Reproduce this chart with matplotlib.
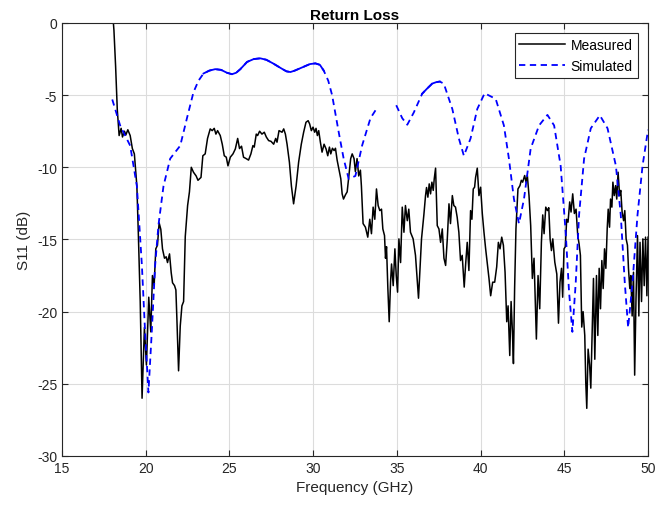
import numpy as np
import matplotlib
matplotlib.use("Agg")
import matplotlib.pyplot as plt

plt.rcParams['font.family'] = ['Liberation Sans', 'DejaVu Sans']
plt.rcParams['axes.unicode_minus'] = False

# measured S11
freq_meas = [18.0, 18.1, 18.2, 18.3, 18.37, 18.41, 18.53, 18.61, 18.73, 18.81, 18.93, 19.07, 19.2, 19.32,
             19.47, 19.56, 19.67, 19.78, 19.92, 20.04, 20.18, 20.3, 20.4, 20.5, 20.6, 20.7, 20.8, 20.9,
             21.0, 21.12, 21.22, 21.3, 21.42, 21.52, 21.6, 21.72, 21.8, 21.86, 21.96, 22.06, 22.16, 22.26,
             22.36, 22.5, 22.61, 22.72, 22.85, 23.01, 23.12, 23.3, 23.41, 23.55, 23.69, 23.85, 23.97, 24.09,
             24.19, 24.29, 24.45, 24.57, 24.69, 24.81, 24.91, 25.05, 25.21, 25.35, 25.49, 25.6, 25.72, 25.84,
             26.0, 26.14, 26.28, 26.4, 26.48, 26.6, 26.68, 26.8, 26.94, 27.08, 27.2, 27.34, 27.48, 27.64,
             27.76, 27.84, 27.96, 28.14, 28.24, 28.34, 28.44, 28.58, 28.7, 28.83, 28.98, 29.13, 29.29, 29.43,
             29.57, 29.7, 29.79, 29.89, 29.99, 30.09, 30.17, 30.25, 30.33, 30.43, 30.53, 30.65, 30.77, 30.87,
             30.97, 31.05, 31.15, 31.25, 31.33, 31.43, 31.53, 31.65, 31.73, 31.81, 31.93, 32.03, 32.12, 32.24,
             32.33, 32.44, 32.52, 32.62, 32.72, 32.82, 32.88, 32.98, 33.12, 33.26, 33.38, 33.48, 33.58, 33.68,
             33.78, 33.88, 33.98, 34.08, 34.16, 34.26, 34.32, 34.38, 34.46, 34.54, 34.62, 34.68, 34.78, 34.88,
             34.96, 35.04, 35.12, 35.22, 35.32, 35.42, 35.51, 35.62, 35.71, 35.81, 35.97, 36.11, 36.21, 36.29,
             36.37, 36.47, 36.61, 36.71, 36.77, 36.85, 36.93, 37.01, 37.09, 37.17, 37.23, 37.31, 37.41, 37.51,
             37.61, 37.71, 37.81, 37.91, 38.01, 38.11, 38.2, 38.31, 38.4, 38.5, 38.6, 38.7, 38.8, 38.9,
             39.02, 39.1, 39.2, 39.3, 39.4, 39.48, 39.56, 39.64, 39.7, 39.8, 39.9, 40.0, 40.1, 40.2,
             40.3, 40.4, 40.5, 40.6, 40.72, 40.84, 40.96, 41.06, 41.16, 41.26, 41.36, 41.46, 41.56, 41.64,
             41.74, 41.82, 41.9, 41.96, 42.03, 42.11, 42.23, 42.35, 42.43, 42.51, 42.63, 42.71, 42.79, 42.89,
             42.99, 43.09, 43.19, 43.33, 43.43, 43.53, 43.63, 43.71, 43.79, 43.89, 43.99, 44.07, 44.15, 44.23,
             44.31, 44.43, 44.55, 44.65, 44.74, 44.83, 44.9, 44.98, 45.06, 45.14, 45.22, 45.32, 45.4, 45.5,
             45.6, 45.7, 45.8, 45.88, 45.96, 46.04, 46.12, 46.22, 46.28, 46.34, 46.42, 46.51, 46.58, 46.66,
             46.74, 46.82, 46.92, 47.0, 47.08, 47.16, 47.24, 47.32, 47.4, 47.48, 47.56, 47.62, 47.7, 47.76,
             47.84, 47.9, 47.98, 48.06, 48.13, 48.21, 48.3, 48.37, 48.45, 48.54, 48.61, 48.69, 48.77, 48.83,
             48.91, 48.97, 49.05, 49.13, 49.2, 49.28, 49.37, 49.45, 49.52, 49.61, 49.69, 49.77, 49.85, 49.93,
             50.0]
s11_meas = [1.0, -0.5, -3.0, -6.0, -7.1, -7.8, -7.3, -7.9, -7.5, -7.76, -7.4, -7.8, -8.7, -9.07,
            -11.3, -14.7, -19.3, -26.0, -21.1, -23.7, -19.0, -21.4, -17.5, -18.2, -15.65, -15.4, -13.85, -14.3,
            -15.65, -16.3, -16.2, -16.6, -16.0, -17.3, -18.0, -18.2, -18.5, -20.5, -24.1, -21.0, -19.6, -19.3,
            -14.8, -12.65, -11.7, -10.0, -10.34, -10.6, -10.9, -10.7, -9.2, -9.07, -8.0, -7.34, -7.46, -7.3,
            -7.7, -7.46, -7.8, -8.4, -9.2, -9.3, -9.9, -9.3, -9.07, -8.73, -8.0, -8.7, -8.54, -9.3,
            -9.4, -9.5, -9.07, -8.5, -8.6, -7.7, -7.8, -7.5, -7.7, -7.57, -7.9, -8.15, -8.2, -8.4,
            -8.0, -8.26, -7.46, -7.57, -7.34, -7.7, -8.4, -9.65, -11.3, -12.53, -11.3, -9.65, -8.4, -7.57,
            -6.88, -6.77, -7.0, -7.46, -7.22, -7.57, -7.3, -7.8, -7.46, -8.26, -8.95, -8.4, -8.73, -9.2,
            -8.6, -9.07, -8.68, -8.84, -8.68, -9.5, -10.1, -10.8, -11.84, -12.2, -11.9, -11.7, -10.7, -9.4,
            -9.07, -9.4, -10.3, -9.4, -10.6, -10.2, -11.3, -13.9, -14.15, -14.84, -13.6, -14.6, -12.76, -13.6,
            -11.5, -12.65, -13.0, -12.9, -14.27, -14.73, -16.3, -15.5, -18.4, -20.7, -17.96, -16.7, -18.2, -15.65,
            -17.5, -18.65, -14.96, -16.6, -12.76, -14.5, -12.65, -13.7, -12.9, -14.5, -14.96, -16.1, -17.7, -19.07,
            -17.27, -14.96, -13.3, -11.96, -11.4, -12.07, -11.15, -11.84, -11.03, -11.6, -10.8, -10.06, -14.04, -14.27,
            -15.2, -14.27, -16.3, -16.8, -14.96, -12.53, -13.9, -11.96, -12.65, -12.76, -13.46, -14.5, -16.46, -16.1,
            -18.3, -16.8, -15.2, -17.15, -13.0, -13.6, -11.5, -11.38, -10.7, -10.06, -11.96, -11.38, -13.2, -14.5,
            -15.65, -16.7, -17.7, -18.9, -17.96, -17.96, -16.9, -15.2, -15.65, -14.84, -15.4, -17.27, -20.7, -19.6,
            -23.04, -19.3, -21.4, -23.6, -18.4, -14.27, -11.5, -11.27, -10.9, -11.03, -10.57, -11.03, -10.57, -11.96,
            -14.04, -17.7, -16.3, -21.9, -17.5, -19.8, -15.2, -13.3, -14.6, -12.76, -13.0, -12.8, -14.96, -15.77,
            -14.96, -16.57, -17.4, -20.8, -17.96, -17.0, -19.0, -15.65, -15.5, -13.6, -13.8, -12.4, -13.1, -11.84,
            -13.2, -12.9, -14.73, -15.3, -16.1, -21.07, -20.0, -21.65, -24.9, -26.7, -22.6, -23.7, -25.3, -21.4,
            -17.7, -23.3, -17.5, -21.65, -17.0, -19.8, -16.46, -18.4, -15.65, -17.0, -14.27, -12.9, -14.15, -12.2,
            -12.76, -11.03, -11.96, -11.27, -12.2, -10.34, -11.96, -11.6, -13.1, -13.7, -13.0, -14.96, -15.4, -17.0,
            -18.4, -17.5, -20.3, -17.27, -24.4, -19.1, -14.73, -20.3, -15.2, -19.3, -14.96, -18.2, -14.84, -18.9,
            -14.84]

# simulated S11 (nan = gap in the data)
freq_sim = [18.0, 18.47, 19.07, 19.47, 19.77, 19.96, 20.16, 20.36, 20.56, 20.76, 21.06, 21.46, 22.06, 22.46,
            22.85, 23.15, 23.45, 23.8, 24.15, 24.5, 24.85, 25.15, 25.4, 25.65, 26.05, 26.45, 26.84, 27.2,
            27.6, 28.1, 28.4, 28.64, 28.9, 29.4, 29.8, 30.13, 30.4, 30.63, 30.9, 31.13, 31.53, 31.82,
            32.12, 32.52, 32.92, 33.42, 33.86, 34.4, 34.96, 35.32, 35.62, 36.01, 36.51, 36.8, 37.11, 37.35,
            37.56, 37.8, 38.31, 38.7, 39.0, 39.4, 39.8, 40.24, 40.9, 41.39, 41.69, 41.99, 42.29, 42.59,
            42.99, 43.49, 43.99, 44.39, 44.78, 45.08, 45.28, 45.48, 45.68, 45.88, 46.18, 46.58, 47.12, 47.58,
            48.08, 48.37, 48.61, 48.81, 49.07, 49.37, 49.67, 50.0]
s11_sim = [-5.3, -7.1, -8.5, -11.3, -16.8, -21.4, -25.6, -21.4, -16.8, -14.0, -11.3, -9.4, -8.5, -6.6,
           -4.8, -4.0, -3.5, -3.3, -3.2, -3.25, -3.45, -3.55, -3.45, -3.2, -2.7, -2.5, -2.45, -2.55,
           -2.8, -3.15, -3.35, -3.4, -3.3, -3.05, -2.85, -2.8, -2.9, -3.3, -4.0, -5.0, -7.6, -9.4,
           -10.8, -10.6, -8.5, -6.6, -5.8, np.nan, -5.7, -6.6, -7.05, -6.2, -4.9, -4.55, -4.2, -4.1,
           -4.06, -4.2, -5.96, -8.0, -9.2, -8.0, -5.96, -4.87, -5.26, -7.1, -9.4, -12.2, -13.9, -12.2,
           -8.7, -7.1, -6.37, -7.1, -9.9, -14.5, -18.6, -21.4, -18.0, -13.3, -9.4, -7.3, -6.4, -7.3,
           -9.9, -13.3, -18.0, -21.1, -18.0, -13.3, -9.9, -7.4]

fs = np.array(freq_sim)
ss = np.array(s11_sim)

fig = plt.figure(figsize=(6.55, 5.10), dpi=100)
ax = fig.add_axes([0.0947, 0.104, 0.8947, 0.849])

ax.plot(freq_meas, s11_meas, color='black', lw=1.1, label='Measured')
ax.plot(fs, ss, color='blue', lw=1.3, ls=(0, (3.5, 2.5)), label='Simulated')
# densely sampled parts render solid in the original
for lo, hi in [(23.4, 30.7), (36.4, 37.7)]:
    m = (fs >= lo) & (fs <= hi)
    ax.plot(fs[m], ss[m], color='blue', lw=1.3)

ax.set_xlim(15, 50)
ax.set_ylim(-30, 0)
ax.set_xticks(np.arange(15, 51, 5))
ax.set_yticks(np.arange(-30, 1, 5))
ax.grid(True, color='#dcdcdc', lw=0.8)
ax.set_axisbelow(True)
ax.tick_params(direction='in', top=True, right=True, labelsize=10, colors='#262626', length=4)
for s in ax.spines.values():
    s.set_color('#262626')
    s.set_linewidth(0.8)

ax.set_title('Return Loss', fontsize=11, fontweight='bold', pad=3)
ax.set_xlabel('Frequency (GHz)', fontsize=11, color='#262626')
ax.set_ylabel('S11 (dB)', fontsize=11, color='#262626')

leg = ax.legend(loc='upper right', fontsize=10, fancybox=False, framealpha=1,
                edgecolor='#262626', handlelength=3.3, handletextpad=0.4,
                borderaxespad=0.75, borderpad=0.35)
leg.get_frame().set_linewidth(0.8)

fig.savefig('out.png', dpi=100)
